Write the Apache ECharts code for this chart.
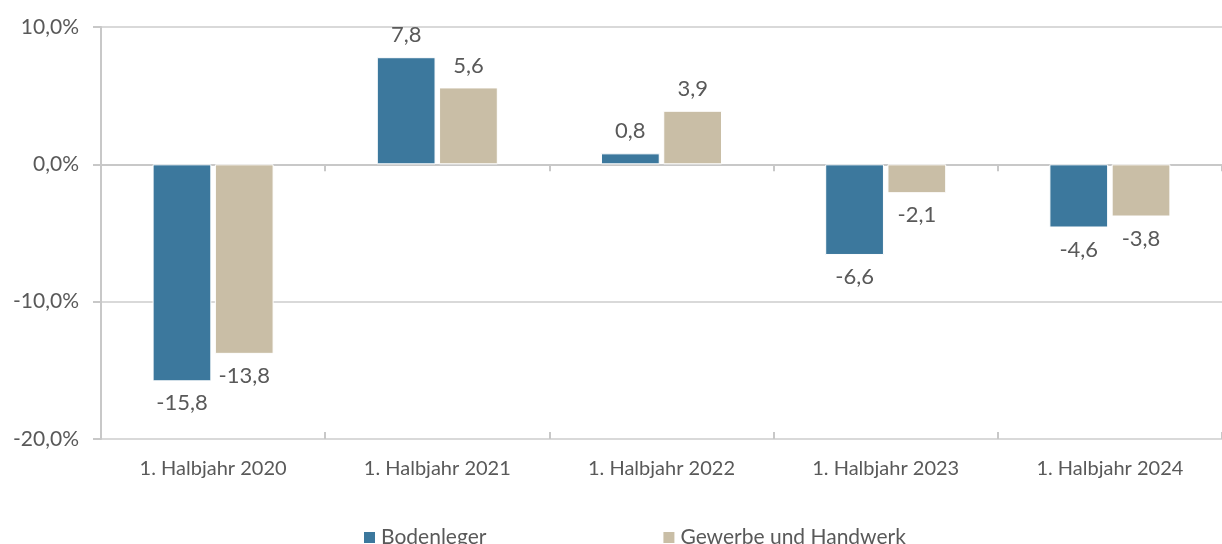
<!DOCTYPE html>
<html>
<head>
<meta charset="utf-8">
<script src="https://cdn.jsdelivr.net/npm/echarts@6/dist/echarts.min.js"></script>
<style>
  html, body { margin: 0; padding: 0; background: #fff; }
  #chart { width: 1222px; height: 544px; }
</style>
</head>
<body>
<div id="chart"></div>
<script>
const categories = ['1. Halbjahr 2020', '1. Halbjahr 2021', '1. Halbjahr 2022', '1. Halbjahr 2023', '1. Halbjahr 2024']
const bodenleger = [-15.8, 7.8, 0.8, -6.6, -4.6]
const gewerbe = [-13.8, 5.6, 3.9, -2.1, -3.8]
const seriesNames = ['Bodenleger', 'Gewerbe und Handwerk']

const font = 'Lato, "Open Sans", sans-serif'
const textColor = '#595959'

// negative Werte: Label unter dem Balken
function toData(values) {
  return values.map(v => ({
    value: v,
    label: { position: v < 0 ? 'bottom' : 'top' }
  }))
}

function fmt(v) {
  return String(v).replace('.', ',')
}

const chart = echarts.init(document.getElementById('chart'))
chart.setOption({
  animation: false,
  grid: { left: 101, right: -10, top: 27, bottom: 105 },
  legend: {
    left: 357,
    top: 522,
    itemWidth: 13,
    itemHeight: 13,
    itemGap: 175,
    icon: 'rect',
    textStyle: { fontFamily: font, fontSize: 21, color: textColor, padding: [0, 0, 0, 0] },
    data: seriesNames
  },
  xAxis: [
    {
      // Beschriftung unten
      type: 'category',
      data: categories,
      position: 'bottom',
      axisLine: { show: false, onZero: false },
      axisTick: { show: false },
      axisLabel: { fontFamily: font, fontSize: 20, color: textColor, margin: 20 }
    },
    {
      // Nulllinie mit Ticks nach unten
      type: 'category',
      data: categories,
      position: 'bottom',
      axisLine: { show: true, onZero: true, lineStyle: { color: '#c8c8c8', width: 2 } },
      axisTick: { show: true, length: 7, lineStyle: { color: '#c8c8c8', width: 2 } },
      axisLabel: { show: false }
    },
    {
      // Ticks nach oben
      type: 'category',
      data: categories,
      position: 'bottom',
      axisLine: { show: false, onZero: true },
      axisTick: { show: true, inside: true, length: 7, lineStyle: { color: '#c8c8c8', width: 2 } },
      axisLabel: { show: false }
    }
  ],
  yAxis: {
    type: 'value',
    min: -20,
    max: 10,
    interval: 10,
    axisLine: { show: true, lineStyle: { color: '#c8c8c8', width: 2 } },
    axisTick: { show: true, length: 8, lineStyle: { color: '#c8c8c8', width: 2 } },
    splitLine: { lineStyle: { color: '#d9d9d9', width: 2 } },
    axisLabel: {
      fontFamily: font,
      fontSize: 21,
      color: textColor,
      margin: 22,
      formatter: v => v.toFixed(1).replace('.', ',') + '%'
    }
  },
  series: [
    {
      name: seriesNames[0],
      type: 'bar',
      xAxisIndex: 0,
      data: toData(bodenleger),
      barWidth: '26.2%',
      barGap: '6%',
      itemStyle: { color: '#3c789d', borderColor: '#ffffff', borderWidth: 1 },
      label: {
        show: true,
        distance: 11,
        fontFamily: font,
        fontSize: 22,
        color: textColor,
        formatter: p => fmt(p.value)
      }
    },
    {
      name: seriesNames[1],
      type: 'bar',
      xAxisIndex: 0,
      data: toData(gewerbe),
      barWidth: '26.2%',
      barGap: '6%',
      itemStyle: { color: '#c9bea6', borderColor: '#ffffff', borderWidth: 1 },
      label: {
        show: true,
        distance: 11,
        fontFamily: font,
        fontSize: 22,
        color: textColor,
        formatter: p => fmt(p.value)
      }
    }
  ]
})
</script>
</body>
</html>
